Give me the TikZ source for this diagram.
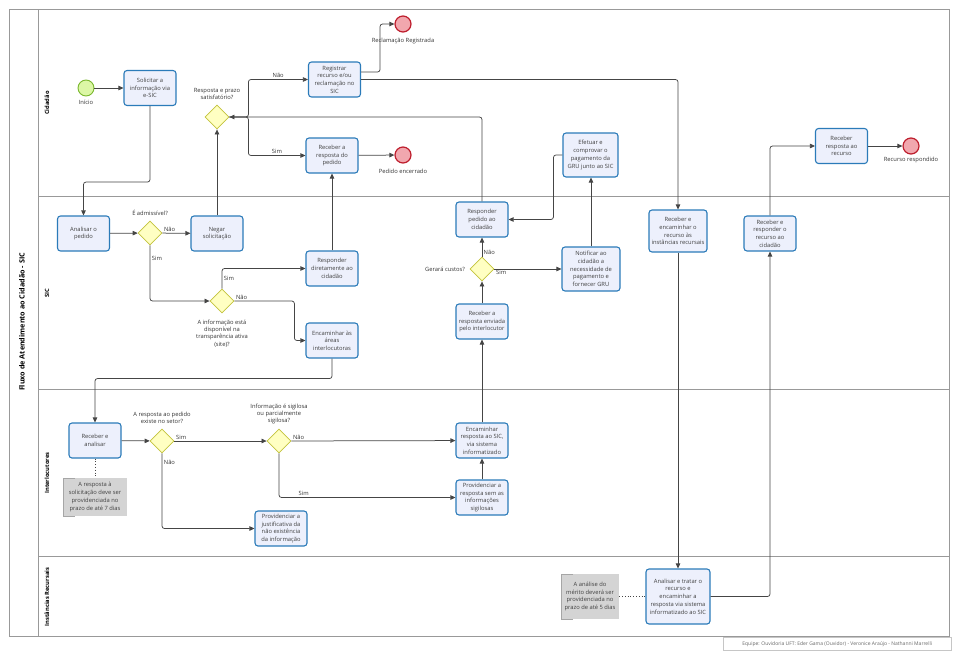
\documentclass[tikz,border=0pt]{standalone}
\usepackage{fontspec}
\setmainfont{Open Sans}
\usetikzlibrary{positioning,arrows.meta,shapes.geometric}

\definecolor{taskline}{HTML}{2B7BB9}
\definecolor{taskfill}{HTML}{EDF0FC}
\definecolor{gateline}{HTML}{C2C23C}
\definecolor{gatefill}{HTML}{FFFFC2}
\definecolor{startline}{HTML}{7AB82E}
\definecolor{startfill}{HTML}{DCF7A6}
\definecolor{endline}{HTML}{BE1E2D}
\definecolor{endfill}{HTML}{F1A7AE}
\definecolor{flowline}{HTML}{454545}
\definecolor{notefill}{HTML}{D4D4D4}
\definecolor{poolline}{HTML}{999999}

\begin{document}
\begin{tikzpicture}[x=1pt, y=-1pt,
  task/.style={draw=taskline, fill=taskfill, line width=1.1pt, rounded corners=3pt,
               align=center, font=\fontsize{5.8}{7.7}\selectfont, text=black!75,
               minimum width=52pt, minimum height=35pt, inner sep=1pt},
  gate/.style={diamond, draw=gateline, fill=gatefill, line width=0.8pt,
               minimum width=24pt, minimum height=24pt, inner sep=0pt},
  startev/.style={circle, draw=startline, fill=startfill, line width=0.9pt, minimum size=16pt, inner sep=0pt},
  endev/.style={circle, draw=endline, fill=endfill, line width=1.2pt, minimum size=16pt, inner sep=0pt},
  note/.style={fill=notefill, align=center, font=\fontsize{5.8}{7.7}\selectfont, text=black!75,
               inner sep=1pt,
               path picture={\draw[gray!70, line width=1pt]
                 ([xshift=12pt]path picture bounding box.north west) -- (path picture bounding box.north west)
                 -- (path picture bounding box.south west) -- ++(12pt,0pt);}},
  lbl/.style={font=\fontsize{5.8}{7.2}\selectfont, text=black!80, inner sep=1.5pt, align=center},
  lane/.style={font=\bfseries\fontsize{5.8}{7}\selectfont, rotate=90},
  arr/.style={-{Triangle[length=5pt,width=4.5pt]}, draw=flowline, line width=0.75pt, rounded corners=2.5pt},
  dots/.style={dotted, draw=flowline, line width=0.8pt}]
  \useasboundingbox (0,0) rectangle (960,651);

  % pool and lanes
  \draw[poolline, line width=0.8pt] (9,9) rectangle (949,636);
  \draw[poolline, line width=0.8pt] (38,9) -- (38,636);
  \foreach \y in {196,389,556}
    \draw[poolline, line width=0.8pt] (38,\y) -- (949,\y);
  \node[font=\bfseries\fontsize{7.2}{8}\selectfont, rotate=90] (titulo) at (22,322) {Fluxo de Atendimento ao Cidadão - SIC};
  \node[lane] (lcid) at (47,103) {Cidadão};
  \node[lane] (lsic) at (47,293) {SIC};
  \node[lane] (lint) at (47,473) {Interlocutores};
  \node[lane] (linst) at (47,597) {Instâncias Recursais};
  \node[draw=gray!45, font=\fontsize{5}{6}\selectfont, text=black!60, minimum width=228pt,
        minimum height=13pt, anchor=north west] (equipe) at (723,637)
        {Equipe: Ouvidoria UFT: Eder Gama (Ouvidor) - Veronice Araújo - Nathanni Marrelli};

  % Cidadao
  \node[startev] (inicio) at (86,88) {};
  \node[lbl, below=2pt of inicio] {Início};
  \node[task] (solic) at (150,88) {Solicitar a\\informação via\\e-SIC};
  \node[gate] (resp) at (217,117) {};
  \node[lbl, above=3pt of resp] {Resposta e prazo\\satisfatório?};
  \node[task] (reg) at (334.5,79.5) {Registrar\\recurso e/ou\\reclamação no\\SIC};
  \node[task] (receped) at (332,155.5) {Receber a\\resposta do\\pedido};
  \node[endev] (fimrecl) at (403,24) {};
  \node[lbl, below=4pt of fimrecl] {Reclamação Registrada};
  \node[endev] (fimped) at (403,155) {};
  \node[lbl, below=4pt of fimped] {Pedido encerrado};
  \node[task, minimum width=55pt, minimum height=44pt] (efet) at (590.5,155) {Efetuar e\\comprovar o\\pagamento da\\GRU junto ao SIC};
  \node[task] (recebrec) at (841.5,146) {Receber\\resposta ao\\recurso};
  \node[endev] (fimrec) at (911,146) {};
  \node[lbl, below=1pt of fimrec] {Recurso respondido};

  % SIC
  \node[task] (analisar) at (83.5,233.5) {Analisar o\\pedido};
  \node[gate] (adm) at (150,233) {};
  \node[lbl, above=3pt of adm] {É admissível?};
  \node[task] (negar) at (217,233.5) {Negar\\solicitação};
  \node[task] (dir) at (332,268.5) {Responder\\diretamente ao\\cidadão};
  \node[gate] (disp) at (222,301) {};
  \node[lbl, below=5pt of disp] {A informação está\\disponível na\\transparência ativa\\(site)?};
  \node[task] (encam) at (332,340.5) {Encaminhar às\\áreas\\interlocutoras};
  \node[task] (respped) at (482,219.5) {Responder\\pedido ao\\cidadão};
  \node[gate] (custo) at (482,269) {};
  \node[lbl, left=3pt of custo] {Gerará custos?};
  \node[task, minimum width=58pt, minimum height=44pt] (notif) at (591,269) {Notificar ao\\cidadão a\\necessidade de\\pagamento e\\fornecer GRU};
  \node[task] (recresp) at (482,321.5) {Receber a\\resposta enviada\\pelo interlocutor};
  \node[task, minimum width=58pt, minimum height=42pt] (encrec) at (678,231) {Receber e\\encaminhar o\\recurso às\\instâncias recursais};
  \node[task] (resprec) at (770,233.5) {Receber e\\responder o\\recurso ao\\cidadão};

  % Interlocutores
  \node[task] (recan) at (95,440.5) {Receber e\\analisar};
  \node[note, minimum width=64pt, minimum height=38pt] (nota7) at (95,497) {A resposta à\\solicitação deve ser\\providenciada no\\prazo de até 7 dias};
  \node[gate] (exist) at (162,441) {};
  \node[lbl, above=3pt of exist] {A resposta ao pedido\\existe no setor?};
  \node[gate] (sig) at (279,441) {};
  \node[lbl, above=3pt of sig] {Informação é sigilosa\\ou parcialmente\\sigilosa?};
  \node[task] (just) at (281,528.5) {Providenciar a\\justificativa da\\não existência\\da informação};
  \node[task] (encsic) at (482,440.5) {Encaminhar\\resposta ao SIC,\\via sistema\\informatizado};
  \node[task] (semsig) at (482,497.5) {Providenciar a\\resposta sem as\\informações\\sigilosas};

  % Instancias Recursais
  \node[note, minimum width=58pt, minimum height=45pt] (nota5) at (590,596.5) {A análise do\\mérito deverá ser\\providenciada no\\prazo de até 5 dias};
  \node[task, minimum width=64pt, minimum height=55pt] (anrec) at (678,596.5) {Analisar e tratar o\\recurso e\\encaminhar a\\resposta via sistema\\informatizado ao SIC};

  % fluxos
  \draw[arr] (inicio) -- (solic);
  \draw[arr] (solic.south) -- ++(0,76) -| (analisar.north);
  \draw[arr] (analisar) -- (adm);
  \draw[arr] (adm) -- (negar);
  \node[lbl, above right] at (adm.east) {Não};
  \draw[arr] (adm.south) |- node[lbl, pos=0.12, right] {Sim} (disp.west);
  \draw[arr] (negar) -- (resp);
  \draw[arr] (disp.north) |- node[lbl, pos=0.25, right] {Sim} (dir.west);
  \draw[arr] (disp.east) -- ++(60,0) |- (encam.west);
  \node[lbl, above right] at (disp.east) {Não};
  \draw[arr] (dir) -- (receped);
  \draw[arr] (receped) -- (fimped);
  \draw[arr] (resp.east) -- ++(19,0) |- node[lbl, pos=0.75, above] {Não} (reg.west);
  \draw[arr] (resp.east) -- ++(19,0) |- node[lbl, pos=0.75, above] {Sim} (receped.west);
  \draw[arr] ([yshift=7.5pt]reg.east) -- ++(19,0) |- (fimrecl);
  \draw[arr] (reg.east) -| (encrec.north);
  \draw[arr] (respped.north) |- (resp.east);
  \draw[arr] (encam.south) -- ++(0,20) -| (recan.north);
  \draw[arr] (recan) -- (exist);
  \draw[arr] (exist) -- (sig);
  \node[lbl, above right] at (exist.east) {Sim};
  \draw[arr] (exist.south) |- node[lbl, pos=0.06, right] {Não} (just.west);
  \draw[arr] (sig) -- (encsic);
  \node[lbl, above right] at (sig.east) {Não};
  \draw[arr] (sig.south) |- node[lbl, pos=0.57, above] {Sim} (semsig.west);
  \draw[arr] (semsig) -- (encsic);
  \draw[arr] (encsic) -- (recresp);
  \draw[arr] (recresp) -- (custo);
  \draw[arr] (custo) -- (respped);
  \node[lbl, above right] at (custo.north) {Não};
  \draw[arr] (custo) -- (notif);
  \node[lbl, below right] at (custo.east) {Sim};
  \draw[arr] (notif) -- (notif |- efet.south);
  \draw[arr] (efet.west) -- ++(-9,0) |- (respped.east);
  \draw[arr] (encrec) -- (anrec);
  \draw[arr] (anrec.east) -| (resprec.south);
  \draw[arr] (resprec.north) |- (recebrec.west);
  \draw[arr] (recebrec) -- (fimrec);
  \draw[dots] (recan) -- (nota7);
  \draw[dots] (nota5) -- (anrec);
\end{tikzpicture}
\end{document}
